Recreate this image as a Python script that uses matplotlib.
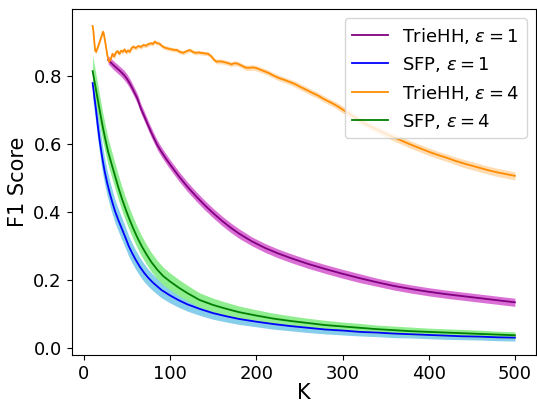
import matplotlib
matplotlib.use("Agg")
import matplotlib.pyplot as plt

# SFP, eps = 1
k_sfp1 = [10, 12, 14, 16, 18, 20, 22, 24, 27, 30, 33, 36, 40, 44, 48, 52, 56, 60, 65, 70,
          75, 80, 90, 100, 110, 120, 135, 150, 165, 180, 200, 220, 240, 260, 280, 300, 320,
          340, 360, 380, 400, 420, 440, 460, 480, 500]
f1_sfp1 = [0.78, 0.74, 0.70, 0.655, 0.615, 0.58, 0.548, 0.52, 0.485, 0.455,
           0.428, 0.403, 0.376, 0.351, 0.326, 0.300, 0.279, 0.260, 0.239, 0.221,
           0.206, 0.193, 0.171, 0.155, 0.141, 0.129, 0.115, 0.103, 0.094, 0.086,
           0.078, 0.071, 0.065, 0.060, 0.055, 0.052, 0.048, 0.046, 0.043, 0.041,
           0.039, 0.037, 0.035, 0.034, 0.032, 0.031]
sd_sfp1 = [0.045, 0.044, 0.043, 0.042, 0.041, 0.040, 0.039, 0.038, 0.037, 0.036,
           0.035, 0.034, 0.033, 0.032, 0.031, 0.030, 0.029, 0.028, 0.027, 0.026,
           0.025, 0.024, 0.023, 0.022, 0.021, 0.020, 0.019, 0.018, 0.017, 0.016,
           0.015, 0.015, 0.014, 0.014, 0.013, 0.013, 0.012, 0.012, 0.012, 0.011,
           0.011, 0.011, 0.010, 0.010, 0.010, 0.010]

# SFP, eps = 4
k_sfp4 = [10, 12, 14, 16, 18, 20, 22, 25, 28, 32, 36, 40, 44, 48, 52, 57, 62, 67, 72, 78, 85,
          92, 100, 110, 120, 134, 150, 165, 180, 200, 220, 240, 260, 280, 300, 320, 340, 360,
          380, 400, 420, 440, 460, 480, 500]
f1_sfp4 = [0.815, 0.787, 0.759, 0.731, 0.703, 0.675, 0.648, 0.612, 0.578, 0.542,
           0.507, 0.472, 0.440, 0.411, 0.384, 0.353, 0.325, 0.300, 0.278, 0.254,
           0.231, 0.212, 0.196, 0.178, 0.162, 0.142, 0.127, 0.116, 0.106, 0.096,
           0.087, 0.080, 0.074, 0.068, 0.064, 0.060, 0.056, 0.053, 0.050, 0.048,
           0.046, 0.044, 0.042, 0.040, 0.038]
sd_sfp4 = [0.047, 0.046, 0.045, 0.044, 0.043, 0.042, 0.041, 0.040, 0.039, 0.038,
           0.037, 0.036, 0.035, 0.034, 0.033, 0.032, 0.031, 0.030, 0.029, 0.028,
           0.027, 0.026, 0.025, 0.024, 0.023, 0.021, 0.020, 0.019, 0.018, 0.017,
           0.016, 0.015, 0.014, 0.014, 0.013, 0.013, 0.012, 0.012, 0.012, 0.011,
           0.011, 0.011, 0.011, 0.010, 0.010]

# TrieHH, eps = 1
k_trie1 = [28, 30, 34, 38, 42, 46, 50, 54, 58, 62, 66, 70, 75, 80, 85, 90, 95, 100, 110, 120,
           130, 140, 150, 160, 170, 180, 195, 210, 225, 240, 260, 280, 300, 320, 340, 360,
           380, 400, 420, 440, 460, 480, 500]
f1_trie1 = [0.848, 0.843, 0.833, 0.824, 0.815, 0.805, 0.792, 0.775, 0.755, 0.734,
            0.705, 0.682, 0.652, 0.624, 0.598, 0.577, 0.558, 0.540, 0.506, 0.475,
            0.447, 0.421, 0.397, 0.375, 0.355, 0.337, 0.314, 0.295, 0.279, 0.265,
            0.248, 0.233, 0.219, 0.206, 0.194, 0.183, 0.174, 0.166, 0.159, 0.153,
            0.147, 0.141, 0.135]
sd_trie1 = [0.012, 0.012, 0.013, 0.013, 0.013, 0.014, 0.014, 0.014, 0.014, 0.014,
            0.014, 0.014, 0.014, 0.014, 0.014, 0.014, 0.014, 0.014, 0.014, 0.014,
            0.014, 0.014, 0.014, 0.014, 0.014, 0.014, 0.013, 0.013, 0.013, 0.013,
            0.013, 0.013, 0.013, 0.013, 0.012, 0.012, 0.012, 0.012, 0.012, 0.012,
            0.012, 0.012, 0.012]

# TrieHH, eps = 4
k_trie4 = [10, 11, 12, 13, 14, 16, 18, 20, 22, 23, 25, 27, 29, 31, 33, 35, 37, 39, 41, 43,
           45, 47, 49, 51, 53, 55, 57, 60, 63, 66, 69, 72, 75, 78, 80, 82, 84, 86, 88, 91,
           94, 97, 100, 104, 108, 111, 115, 119, 123, 126, 129, 133, 138, 144, 148, 151, 154,
           158, 162, 165, 168, 171, 174, 177, 180, 184, 188, 192, 196, 200, 204, 208, 214, 220,
           227, 233, 238, 244, 250, 258, 265, 271, 277, 283, 290, 296, 305, 315, 325, 335, 345,
           355, 362, 370, 380, 390, 400, 410, 420, 430, 440, 450, 460, 470, 480, 490, 500]
f1_trie4 = [0.948, 0.93, 0.90, 0.875, 0.872, 0.885, 0.90, 0.915, 0.931, 0.925,
            0.895, 0.862, 0.843, 0.85, 0.866, 0.858, 0.87, 0.874, 0.866, 0.875,
            0.872, 0.879, 0.870, 0.876, 0.872, 0.882, 0.887, 0.883, 0.889, 0.886,
            0.892, 0.890, 0.895, 0.897, 0.895, 0.902, 0.898, 0.897, 0.895, 0.888,
            0.884, 0.882, 0.880, 0.878, 0.877, 0.872, 0.869, 0.874, 0.877, 0.872,
            0.869, 0.870, 0.868, 0.866, 0.858, 0.848, 0.843, 0.844, 0.842, 0.840,
            0.838, 0.835, 0.838, 0.838, 0.835, 0.830, 0.825, 0.825, 0.826, 0.824,
            0.820, 0.816, 0.810, 0.802, 0.794, 0.789, 0.784, 0.778, 0.770, 0.760,
            0.751, 0.744, 0.735, 0.727, 0.718, 0.709, 0.694, 0.678, 0.662, 0.649,
            0.637, 0.625, 0.618, 0.609, 0.598, 0.588, 0.578, 0.569, 0.561, 0.552,
            0.544, 0.537, 0.530, 0.523, 0.517, 0.512, 0.507]
sd_trie4 = [0.006, 0.006, 0.006, 0.006, 0.006, 0.006, 0.006, 0.006, 0.006, 0.006,
            0.006, 0.006, 0.006, 0.006, 0.006, 0.006, 0.006, 0.006, 0.006, 0.006,
            0.006, 0.006, 0.006, 0.006, 0.006, 0.006, 0.006, 0.006, 0.006, 0.006,
            0.006, 0.006, 0.006, 0.006, 0.006, 0.006, 0.006, 0.006, 0.006, 0.006,
            0.006, 0.006, 0.006, 0.006, 0.006, 0.006, 0.006, 0.006, 0.006, 0.006,
            0.006, 0.006, 0.006, 0.006, 0.006, 0.006, 0.007, 0.007, 0.007, 0.007,
            0.007, 0.007, 0.007, 0.007, 0.007, 0.007, 0.008, 0.008, 0.008, 0.008,
            0.008, 0.008, 0.008, 0.008, 0.008, 0.008, 0.008, 0.009, 0.009, 0.009,
            0.009, 0.009, 0.009, 0.009, 0.009, 0.010, 0.010, 0.010, 0.010, 0.010,
            0.010, 0.010, 0.011, 0.011, 0.011, 0.011, 0.011, 0.011, 0.011, 0.011,
            0.012, 0.012, 0.012, 0.012, 0.012, 0.012, 0.012]

series = [
    ("TrieHH, $\\epsilon = 1$", k_trie1, f1_trie1, sd_trie1, "purple", "orchid", 1.0),
    ("SFP, $\\epsilon = 1$", k_sfp1, f1_sfp1, sd_sfp1, "blue", "skyblue", 1.0),
    ("TrieHH, $\\epsilon = 4$", k_trie4, f1_trie4, sd_trie4, "darkorange", "darkorange", 0.3),
    ("SFP, $\\epsilon = 4$", k_sfp4, f1_sfp4, sd_sfp4, "green", "lightgreen", 1.0),
]

fig = plt.figure(figsize=(5.37, 4.04), dpi=100)
ax = fig.add_axes([71.5 / 537, 49 / 404, 464.5 / 537, 345.7 / 404])

for label, k, f1, sd, col, band, a in series:
    assert len(k) == len(f1) == len(sd)
    lo = [v - s for v, s in zip(f1, sd)]
    hi = [v + s for v, s in zip(f1, sd)]
    ax.fill_between(k, lo, hi, color=band, alpha=a, linewidth=0)
    ax.plot(k, f1, color=col, linewidth=1.3, label=label)

ax.set_xlim(-14.5, 524.5)
ax.set_ylim(-0.02, 0.997)
ax.set_xticks([0, 100, 200, 300, 400, 500])
ax.set_yticks([0.0, 0.2, 0.4, 0.6, 0.8])
ax.tick_params(labelsize=13)
ax.set_xlabel("K", fontsize=15, labelpad=0)
ax.set_ylabel("F1 Score", fontsize=15)
ax.legend(loc="upper right", fontsize=13)

fig.savefig("out.png", dpi=100)
